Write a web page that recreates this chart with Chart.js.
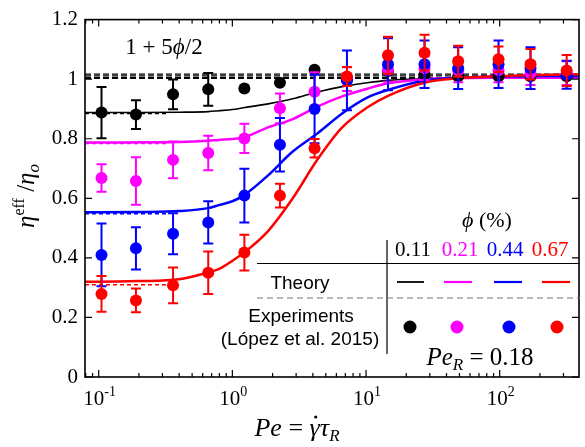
<!DOCTYPE html>
<html>
<head>
<meta charset="utf-8">
<script src="https://cdn.jsdelivr.net/npm/chart.js@4.4.1/dist/chart.umd.min.js"></script>
<style>
  html, body { margin: 0; padding: 0; background: #fff; }
</style>
</head>
<body>
<canvas id="chart" width="585" height="447"></canvas>
<script>
/* Effective viscosity vs Pe: theory curves + experiments (López et al. 2015) */

const SERIF = "'Liberation Serif', 'Times New Roman', serif";
const SANS = "'Liberation Sans', Arial, sans-serif";

const PHI_LABELS = ['0.11', '0.21', '0.44', '0.67'];
const COLORS = ['#000000', '#ff00ff', '#0000ff', '#ff0000'];

const X_MIN = 0.079;
const X_MAX = 392;
const X_TICK_EXP = ['-1', '0', '1', '2'];
const Y_TICKS = [0, 0.2, 0.4, 0.6, 0.8, 1, 1.2];
const Y_TICK_LABELS = ['0', '0.2', '0.4', '0.6', '0.8', '1', '1.2'];

// ─── Theory curves ──────────────────────────────────────────
const PE_THEORY = [0.079, 0.1, 0.2, 0.4, 0.66, 0.79, 1.0, 1.21, 1.85, 2.83, 4.33, 6.63, 10.2, 14.6, 27.2, 48.8, 98.5, 200, 392];
const THEORY_011 = [0.888, 0.888, 0.888, 0.889, 0.891, 0.894, 0.898, 0.904, 0.917, 0.934, 0.957, 0.975, 0.988, 0.996, 1.001, 1.003, 1.003, 1.003, 1.003];
const THEORY_021 = [0.787, 0.787, 0.788, 0.789, 0.793, 0.796, 0.799, 0.804, 0.838, 0.866, 0.908, 0.942, 0.968, 0.986, 1.0, 1.004, 1.005, 1.005, 1.005];
const THEORY_044 = [0.553, 0.553, 0.554, 0.557, 0.567, 0.577, 0.59, 0.609, 0.677, 0.757, 0.818, 0.885, 0.938, 0.964, 0.995, 1.005, 1.009, 1.011, 1.011];
const THEORY_067 = [0.32, 0.32, 0.322, 0.328, 0.351, 0.362, 0.39, 0.416, 0.49, 0.6, 0.73, 0.838, 0.905, 0.944, 0.988, 1.003, 1.01, 1.014, 1.016];

// high-Pe limit 1 + 5phi/2 and low-Pe limits (dashed)
const EINSTEIN = [1.003, 1.005, 1.011, 1.017];
const PE_LOW = [0.079, 0.33];
const LOW_LIMIT = [0.885, 0.784, 0.548, 0.31];

// ─── Experiments ────────────────────────────────────────────
const PE_EXP = [0.105, 0.19, 0.36, 0.66, 1.23, 2.27, 4.12, 7.2, 14.6, 27.4, 48.9, 98, 170, 317];
const EXP_011 = [0.888, 0.881, 0.949, 0.966, 0.969, 0.988, 1.032, 1.0, 1.027, 1.015, 1.01, 1.01, 1.01, 1.01];
const ERR_011 = [0.086, 0.048, 0.05, 0.055, 0, 0, 0, 0, 0, 0, 0, 0, 0, 0];
const EXP_021 = [0.668, 0.658, 0.729, 0.752, 0.801, 0.902, 0.958, 1.0, 1.031, 1.037, 1.03, 1.03, 1.02, 1.02];
const ERR_021 = [0.046, 0.08, 0.062, 0.058, 0.049, 0.05, 0.065, 0.04, 0.04, 0.04, 0.04, 0.04, 0.04, 0.04];
const EXP_044 = [0.41, 0.432, 0.481, 0.519, 0.609, 0.78, 0.9, 0.996, 1.05, 1.05, 1.037, 1.05, 1.037, 1.015];
const ERR_044 = [0.105, 0.071, 0.069, 0.071, 0.09, 0.09, 0.115, 0.1, 0.087, 0.08, 0.07, 0.08, 0.07, 0.047];
const EXP_067 = [0.279, 0.257, 0.308, 0.35, 0.418, 0.609, 0.768, 1.009, 1.08, 1.089, 1.06, 1.067, 1.05, 1.029];
const ERR_067 = [0.06, 0.04, 0.06, 0.071, 0.06, 0.04, 0.031, 0.032, 0.062, 0.06, 0.052, 0.043, 0.051, 0.052];

const THEORY = [THEORY_011, THEORY_021, THEORY_044, THEORY_067];
const EXP = [EXP_011, EXP_021, EXP_044, EXP_067];
const ERR = [ERR_011, ERR_021, ERR_044, ERR_067];

// ─── Datasets ───────────────────────────────────────────────
const datasets = [];

// points: red on top, black at the bottom
[3, 2, 1, 0].forEach((k, i) => {
  datasets.push({
    data: PE_EXP.map((x, j) => ({ x, y: EXP[k][j] })),
    errors: ERR[k],
    backgroundColor: COLORS[k],
    borderWidth: 0,
    pointRadius: 6,
    showLine: false,
    order: i,
  });
});

[3, 2, 1, 0].forEach((k, i) => {
  datasets.push({
    data: PE_THEORY.map((x, j) => ({ x, y: THEORY[k][j] })),
    borderColor: COLORS[k],
    borderWidth: k === 0 ? 1.6 : 2.5,
    pointRadius: 0,
    showLine: true,
    cubicInterpolationMode: 'monotone',
    order: 4 + i,
  });
});

LOW_LIMIT.forEach((v, k) => {
  datasets.push({
    data: PE_LOW.map(x => ({ x, y: v })),
    borderColor: COLORS[k],
    borderWidth: 1.5,
    borderDash: [4, 3],
    pointRadius: 0,
    showLine: true,
    order: 8,
  });
});

EINSTEIN.forEach(v => {
  datasets.push({
    data: [{ x: X_MIN, y: v }, { x: X_MAX, y: v }],
    borderColor: '#000',
    borderWidth: 1.4,
    borderDash: [6, 3],
    pointRadius: 0,
    showLine: true,
    order: 9,
  });
});

// ─── Helpers ────────────────────────────────────────────────
function drawParts(ctx, parts, x, y, align) {
  let w = 0;
  parts.forEach(p => { ctx.font = p.font; p.w = ctx.measureText(p.text).width; w += p.w; });
  let cx = align === 'center' ? x - w / 2 : (align === 'right' ? x - w : x);
  parts.forEach(p => {
    ctx.font = p.font;
    ctx.fillStyle = p.color || '#000';
    ctx.fillText(p.text, cx, y + (p.dy || 0));
    p.x = cx;
    cx += p.w;
  });
  return parts;
}

// error bars, drawn just under each point set
const errorBars = {
  id: 'errorBars',
  beforeDatasetDraw(chart, args) {
    const ds = chart.data.datasets[args.index];
    if (!ds.errors) return;
    const { ctx, scales: { x, y }, chartArea: a } = chart;
    ctx.save();
    ctx.beginPath();
    ctx.rect(a.left, a.top, a.right - a.left, a.bottom - a.top);
    ctx.clip();
    ctx.strokeStyle = ds.backgroundColor;
    ctx.lineWidth = 2;
    ctx.beginPath();
    ds.data.forEach((p, j) => {
      const e = ds.errors[j];
      if (!e) return;
      const px = x.getPixelForValue(p.x);
      const y1 = y.getPixelForValue(p.y + e);
      const y2 = y.getPixelForValue(p.y - e);
      ctx.moveTo(px, y1); ctx.lineTo(px, y2);
      ctx.moveTo(px - 5, y1); ctx.lineTo(px + 5, y1);
      ctx.moveTo(px - 5, y2); ctx.lineTo(px + 5, y2);
    });
    ctx.stroke();
    ctx.restore();
  }
};

// frame, inward ticks, axis labels, annotation table
const decorations = {
  id: 'decorations',
  afterDraw(chart) {
    const { ctx, chartArea: a, scales: { x, y } } = chart;
    ctx.save();
    ctx.textAlign = 'left';
    ctx.textBaseline = 'alphabetic';

    // ticks
    ctx.strokeStyle = '#000';
    ctx.lineWidth = 1.2;
    ctx.beginPath();
    y.ticks.forEach(t => {
      const py = y.getPixelForValue(t.value);
      ctx.moveTo(a.left, py); ctx.lineTo(a.left + 7, py);
      ctx.moveTo(a.right, py); ctx.lineTo(a.right - 7, py);
    });
    for (let e = -2; e <= 2; e++) {
      for (let m = 1; m <= 9; m++) {
        const v = m * Math.pow(10, e);
        if (v < x.min || v > x.max) continue;
        const px = x.getPixelForValue(v);
        const len = m === 1 ? 7 : 4;
        ctx.moveTo(px, a.bottom); ctx.lineTo(px, a.bottom - len);
        ctx.moveTo(px, a.top); ctx.lineTo(px, a.top + len);
      }
    }
    ctx.stroke();
    ctx.lineWidth = 1.6;
    ctx.strokeRect(a.left, a.top, a.right - a.left, a.bottom - a.top);

    // x tick labels 10^n
    X_TICK_EXP.forEach(ex => {
      const px = x.getPixelForValue(Math.pow(10, Number(ex)));
      drawParts(ctx, [
        { text: '10', font: `21px ${SERIF}` },
        { text: ex, font: `14px ${SERIF}`, dy: -9 },
      ], px + 1, 405, 'center');
    });

    // x title
    const xt = drawParts(ctx, [
      { text: 'Pe', font: `italic 26px ${SERIF}` },
      { text: ' = ', font: `26px ${SERIF}` },
      { text: 'γ', font: `italic 26px ${SERIF}` },
      { text: 'τ', font: `italic 26px ${SERIF}` },
      { text: 'R', font: `italic 17px ${SERIF}`, dy: 5 },
    ], 297, 436, 'center');
    ctx.beginPath();
    ctx.arc(xt[2].x + xt[2].w * 0.6, 436 - 19, 1.6, 0, Math.PI * 2);
    ctx.fill();

    // y title
    ctx.save();
    ctx.translate(34, 196);
    ctx.rotate(-Math.PI / 2);
    drawParts(ctx, [
      { text: 'η', font: `italic 25px ${SERIF}` },
      { text: 'eff', font: `16px ${SERIF}`, dy: -10 },
      { text: ' /', font: `25px ${SERIF}` },
      { text: 'η', font: `italic 25px ${SERIF}` },
      { text: 'o', font: `italic 17px ${SERIF}`, dy: 5 },
    ], 0, 0, 'center');
    ctx.restore();

    // 1 + 5phi/2
    drawParts(ctx, [
      { text: '1 + 5', font: `23px ${SERIF}` },
      { text: 'ϕ', font: `italic 23px ${SERIF}` },
      { text: '/2', font: `23px ${SERIF}` },
    ], 164, 54, 'center');

    // table: phi (%)
    drawParts(ctx, [
      { text: 'ϕ', font: `italic 22px ${SERIF}` },
      { text: ' (%)', font: `22px ${SERIF}` },
    ], 487, 227, 'center');

    const colX = [413, 460, 505, 550];
    PHI_LABELS.forEach((t, k) => {
      drawParts(ctx, [{ text: t, font: `21px ${SERIF}`, color: COLORS[k] }], colX[k], 256, 'center');
    });

    ctx.strokeStyle = '#000';
    ctx.lineWidth = 1.2;
    ctx.beginPath();
    ctx.moveTo(387, 240); ctx.lineTo(387, 354);
    ctx.moveTo(257, 263.5); ctx.lineTo(580, 263.5);
    ctx.stroke();

    ctx.strokeStyle = '#777';
    ctx.setLineDash([6, 4]);
    ctx.beginPath();
    ctx.moveTo(257, 298); ctx.lineTo(580, 298);
    ctx.stroke();
    ctx.setLineDash([]);

    drawParts(ctx, [{ text: 'Theory', font: `19px ${SANS}` }], 300, 289, 'center');
    drawParts(ctx, [{ text: 'Experiments', font: `19px ${SANS}` }], 301, 322, 'center');
    drawParts(ctx, [{ text: '(López et al. 2015)', font: `19px ${SANS}` }], 300, 345, 'center');

    const lineX = [[397, 424], [444, 472], [494, 522], [542, 570]];
    const dotX = [410, 457, 509, 557];
    COLORS.forEach((c, k) => {
      ctx.strokeStyle = c;
      ctx.lineWidth = k === 0 ? 1.8 : 2.2;
      ctx.beginPath();
      ctx.moveTo(lineX[k][0], 282); ctx.lineTo(lineX[k][1], 282);
      ctx.stroke();
      ctx.fillStyle = c;
      ctx.beginPath();
      ctx.arc(dotX[k], 327, 6.5, 0, Math.PI * 2);
      ctx.fill();
    });

    drawParts(ctx, [
      { text: 'Pe', font: `italic 25px ${SERIF}` },
      { text: 'R', font: `italic 17px ${SERIF}`, dy: 5 },
      { text: ' = 0.18', font: `25px ${SERIF}` },
    ], 480, 365, 'center');

    ctx.restore();
  }
};

// ─── Chart ──────────────────────────────────────────────────
new Chart(document.getElementById('chart').getContext('2d'), {
  type: 'scatter',
  data: { datasets },
  options: {
    responsive: false,
    animation: false,
    events: [],
    layout: { padding: { top: 10, right: 0, left: 0, bottom: 0 } },
    plugins: { legend: { display: false }, tooltip: { enabled: false } },
    scales: {
      x: {
        type: 'logarithmic', min: X_MIN, max: X_MAX,
        grid: { display: false }, border: { display: false },
        ticks: { display: false },
        afterFit: s => { s.height = 70; }
      },
      y: {
        min: 0, max: 1.2,
        grid: { display: false, drawTicks: false }, border: { display: false },
        afterBuildTicks: s => { s.ticks = Y_TICKS.map(v => ({ value: v })); },
        ticks: {
          color: '#000', padding: 7,
          font: { family: SERIF, size: 21 },
          callback: (v, i) => Y_TICK_LABELS[i]
        },
        afterFit: s => { s.width = 85; }
      }
    }
  },
  plugins: [errorBars, decorations]
});
</script>
</body>
</html>
